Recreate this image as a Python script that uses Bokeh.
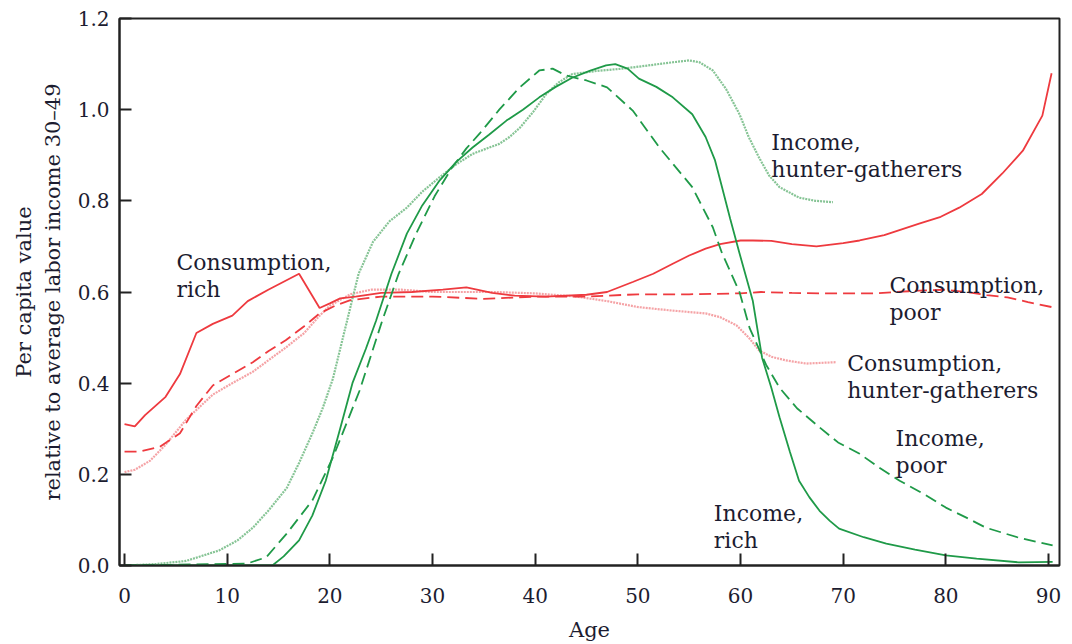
from bokeh.plotting import figure
from bokeh.models import Range1d, FixedTicker, PrintfTickFormatter, Label
from bokeh.embed import file_html
from bokeh.resources import INLINE

# ---- data ----
age_cons_rich = [0, 1, 2, 4, 5.4, 7, 8.6, 10.5, 12, 14, 17, 19, 20, 21, 22.5, 25, 28, 31, 33.3, 35.8,
                 38, 41, 45, 47, 49.5, 51.5, 53.4, 55, 56.6, 58, 60, 61.2, 63, 65, 67.4, 70, 71.6, 74,
                 77.4, 79.5, 81.3, 83.5, 85.5, 87.5, 89.4, 90.3]
cons_rich = [0.31, 0.305, 0.33, 0.37, 0.42, 0.51, 0.53, 0.548, 0.58, 0.605, 0.64, 0.565, 0.575, 0.586,
             0.59, 0.598, 0.6, 0.605, 0.61, 0.598, 0.592, 0.59, 0.594, 0.6, 0.622, 0.64, 0.662, 0.68,
             0.695, 0.705, 0.713, 0.713, 0.712, 0.705, 0.7, 0.707, 0.713, 0.725, 0.75, 0.765, 0.785,
             0.815, 0.86, 0.91, 0.987, 1.08]

age_cons_poor = [0, 1.5, 3.4, 5.4, 7, 8.6, 10.5, 12.5, 14, 15.7, 17.5, 19, 20.5, 22, 25, 30, 35, 40, 45,
                 50, 55, 60, 62, 65, 67.7, 70, 73, 77.4, 80, 82, 84, 86, 88, 90.3]
cons_poor = [0.25, 0.25, 0.26, 0.29, 0.35, 0.395, 0.42, 0.446, 0.47, 0.494, 0.525, 0.553, 0.57, 0.582,
             0.59, 0.59, 0.585, 0.59, 0.59, 0.595, 0.595, 0.597, 0.6, 0.598, 0.597, 0.597, 0.597, 0.603,
             0.605, 0.6, 0.593, 0.588, 0.578, 0.567]

age_cons_hg = [0, 1, 2.5, 4, 6, 8.6, 10.5, 12.5, 14, 15.7, 17.5, 19, 20, 22, 24, 27, 30, 33, 36, 40, 44,
               47, 50, 53, 56.6, 58, 59.6, 60.8, 61.8, 63, 64.4, 66.4, 69.3]
cons_hg = [0.205, 0.21, 0.23, 0.265, 0.32, 0.375, 0.4, 0.425, 0.45, 0.478, 0.51, 0.548, 0.57, 0.595,
           0.605, 0.605, 0.6, 0.6, 0.6, 0.597, 0.59, 0.58, 0.567, 0.56, 0.553, 0.545, 0.527, 0.5, 0.472,
           0.458, 0.45, 0.443, 0.446]

age_inc_rich = [0, 14.4, 15.5, 17, 18.3, 19.6, 21, 22.2, 23.5, 24.5, 26, 27.5, 29, 30.7, 32.3, 33.9, 35.5,
                37.2, 38.8, 40.4, 42, 43.6, 45.3, 46.9, 47.8, 49, 50.1, 51.8, 53.4, 55.3, 56.6, 57.5,
                58.2, 59, 59.9, 61.2, 62.1, 63, 63.8, 64.8, 65.7, 66.7, 67.7, 68.7, 69.6, 72, 74.2, 77,
                80, 83, 87.1, 90.4]
inc_rich = [0, 0, 0.02, 0.055, 0.11, 0.186, 0.3, 0.4, 0.475, 0.537, 0.64, 0.728, 0.79, 0.845, 0.885,
            0.917, 0.945, 0.976, 1.0, 1.027, 1.05, 1.07, 1.085, 1.097, 1.1, 1.09, 1.068, 1.05, 1.027,
            0.99, 0.94, 0.89, 0.83, 0.76, 0.685, 0.58, 0.456, 0.39, 0.325, 0.25, 0.186, 0.15, 0.12,
            0.098, 0.081, 0.062, 0.048, 0.035, 0.022, 0.015, 0.007, 0.008]

age_inc_poor = [0, 11.9, 13.8, 15.8, 18.3, 20.3, 22.9, 25.1, 26.7, 28.4, 30.2, 31.9, 33.3, 34.6, 36.5,
                38.5, 40.4, 41.7, 43, 45, 47, 49.5, 52.1, 55.3, 57.3, 58.2, 59.9, 60.9, 62.5, 63.8, 65.5,
                67.7, 69.5, 71.6, 73.5, 75.5, 78, 80, 82, 83.9, 87.1, 90.4]
inc_poor = [0, 0.004, 0.018, 0.07, 0.143, 0.237, 0.384, 0.537, 0.64, 0.728, 0.81, 0.873, 0.915, 0.948,
            1.0, 1.049, 1.086, 1.09, 1.075, 1.064, 1.049, 0.998, 0.917, 0.83, 0.742, 0.685, 0.6, 0.52,
            0.44, 0.39, 0.345, 0.303, 0.27, 0.245, 0.215, 0.186, 0.155, 0.127, 0.105, 0.083, 0.061,
            0.044]

age_inc_hg = [0, 3, 6, 9.2, 11, 12.5, 14, 15.8, 17, 18.3, 19.3, 20.3, 21.6, 22.8, 24.2, 25.8, 27.5, 29,
              30.7, 32.3, 33.9, 35.3, 36.5, 37.5, 38.5, 39.8, 41.1, 42.3, 43.6, 46, 48.5, 51, 53.4, 55,
              56, 57.3, 58.6, 59.9, 60.8, 61.8, 62.8, 63.8, 65.7, 67.3, 69]
inc_hg = [0, 0.003, 0.01, 0.033, 0.055, 0.083, 0.12, 0.17, 0.225, 0.29, 0.345, 0.41, 0.53, 0.64, 0.71,
          0.755, 0.785, 0.82, 0.852, 0.88, 0.903, 0.915, 0.925, 0.94, 0.96, 0.995, 1.035, 1.06, 1.078,
          1.085, 1.09, 1.097, 1.104, 1.108, 1.104, 1.086, 1.045, 0.99, 0.94, 0.895, 0.855, 0.83, 0.807,
          0.8, 0.797]

x_ticks = [0, 10, 20, 30, 40, 50, 60, 70, 80, 90]
y_ticks = [0.0, 0.2, 0.4, 0.6, 0.8, 1.0, 1.2]

# label texts with anchor (age, value of first line baseline)
labels = [
    ("Consumption,", "rich", 5.06, 0.665),
    ("Income,", "hunter-gatherers", 63.0, 0.928),
    ("Consumption,", "poor", 74.5, 0.614),
    ("Consumption,", "hunter-gatherers", 70.4, 0.443),
    ("Income,", "poor", 75.1, 0.279),
    ("Income,", "rich", 57.4, 0.114),
]

FONT = "DejaVu Serif"
TXT = "#1c1c30"
RED = "#ee3a3f"
PINK = "#f5a3a6"
GREEN = "#1f9a48"
LGREEN = "#86c495"

p = figure(frame_width=940, frame_height=547,
           x_range=Range1d(-0.49, 91.07), y_range=Range1d(0, 1.2),
           output_backend="svg", toolbar_location=None,
           min_border_left=119, min_border_top=18, min_border_right=10, min_border_bottom=72,
           background_fill_color="white", border_fill_color="white")

p.xgrid.visible = False
p.ygrid.visible = False
p.outline_line_color = "#222222"
p.outline_line_width = 2

p.xaxis.ticker = FixedTicker(ticks=x_ticks)
p.yaxis.ticker = FixedTicker(ticks=y_ticks)
p.yaxis.formatter = PrintfTickFormatter(format="%.1f")
p.xaxis.formatter = PrintfTickFormatter(format="%d")

for ax in (p.xaxis[0], p.yaxis[0]):
    ax.axis_line_width = 2
    ax.axis_line_color = "#222222"
    ax.major_tick_in = 12
    ax.major_tick_out = 0
    ax.major_tick_line_width = 2
    ax.major_tick_line_color = "#222222"
    ax.minor_tick_line_color = None
    ax.major_label_text_font = FONT
    ax.major_label_text_font_size = "20px"
    ax.major_label_text_color = TXT
    ax.axis_label_text_font = FONT
    ax.axis_label_text_font_size = "21px"
    ax.axis_label_text_font_style = "normal"
    ax.axis_label_text_color = TXT

p.xaxis.axis_label = "Age"
p.xaxis.major_label_standoff = 22
p.xaxis.axis_label_standoff = 12
p.yaxis.axis_label = "Per capita value\nrelative to average labor income 30\u201349"
p.yaxis.major_label_standoff = 10
p.yaxis.axis_label_standoff = 10

# lines
p.line(age_cons_hg, cons_hg, line_color=PINK, line_width=2.2, line_dash="2 1")
p.line(age_inc_hg, inc_hg, line_color=LGREEN, line_width=2.2, line_dash="2 1")
p.line(age_cons_poor, cons_poor, line_color=RED, line_width=1.8, line_dash="12 6")
p.line(age_cons_rich, cons_rich, line_color=RED, line_width=1.8)
p.line(age_inc_poor, inc_poor, line_color=GREEN, line_width=1.8, line_dash="12 6")
p.line(age_inc_rich, inc_rich, line_color=GREEN, line_width=1.8)

for l1, l2, xa, ya in labels:
    for i, t in enumerate((l1, l2)):
        p.add_layout(Label(x=xa, y=ya, y_offset=-27 * i, text=t, text_font=FONT,
                           text_font_size="22px", text_color=TXT,
                           text_baseline="alphabetic", text_align="left"))

open("out.html", "w").write(file_html(p, INLINE))
